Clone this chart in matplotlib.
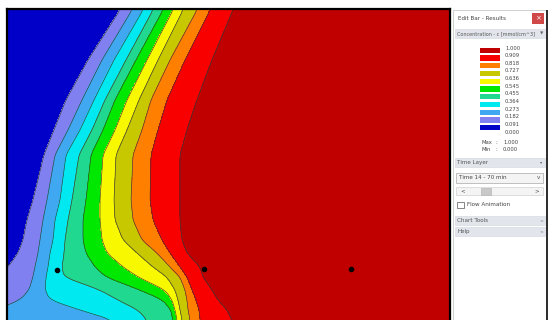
import numpy as np
import matplotlib
matplotlib.use('Agg')
import matplotlib.pyplot as plt
from matplotlib.patches import Rectangle

# Konturgrenzen (x in Pixel) je Bildzeile
row_y = [10, 60, 100, 130, 155, 200, 220, 240, 253, 267, 277, 290, 300, 310, 320]
blue_lav = [120, 88, 66, 54, 44, 33, 27, 23, 18, 8, -5, -10, -20, -30, -40]
lav_lb = [132, 102, 82, 68, 55, 47, 43, 40, 38, 35, 33, 29, 20, -5, -15]
lb_cyan = [143, 114, 94, 80, 66, 60, 55, 53, 50, 48, 46, 45, 50, 80, 113]
cyan_sg = [153, 126, 105, 92, 79, 72, 68, 65, 64, 62, 64, 100, 118, 138, 147]
sg_green = [163, 136, 115, 103, 91, 86, 83, 83, 86, 95, 106, 140, 163, 171, 173]
green_yel = [173, 147, 127, 115, 103, 100, 100, 102, 107, 123, 138, 165, 172, 175, 177]
yel_olive = [183, 158, 139, 127, 116, 114, 115, 123, 137, 153, 167, 175, 178, 180, 182]
olive_orng = [197, 170, 151, 142, 133, 131, 133, 142, 157, 170, 180, 185, 187, 188, 190]
orng_red = [210, 185, 167, 158, 151, 150, 153, 162, 170, 180, 187, 192, 196, 199, 200]
red_dkred = [233, 212, 197, 187, 180, 180, 180, 182, 187, 200, 203, 212, 218, 227, 232]

# Messpunkte
dot_x = [57, 204, 351]
dot_y = [270, 269, 269]

farben = ['#0000c8', '#8080f0', '#40a8f0', '#00e8f0', '#20d890', '#00e800',
          '#f8f800', '#c8c800', '#ff8000', '#f80000', '#c00000']
labels = ['1.000', '0.909', '0.818', '0.727', '0.636', '0.545', '0.455',
          '0.364', '0.273', '0.182', '0.091', '0.000']

fig = plt.figure(figsize=(5.48, 3.2), dpi=100)
fig.patch.set_facecolor('white')

# Konturbild
ax = fig.add_axes([7/548, 0, (450-7)/548, (320-9)/320])
gx = np.linspace(7, 450, 700)
gy = np.linspace(9, 320, 400)
grenzen = np.array([blue_lav, lav_lb, lb_cyan, cyan_sg, sg_green,
                    green_yel, yel_olive, olive_orng, orng_red, red_dkred])
stufen = np.arange(1, 11) / 11

# Grenzlinien auf feines y-Raster bringen und etwas glätten
B = np.array([np.interp(gy, row_y, g) for g in grenzen])
k = 11
kern = np.ones(k) / k
B = np.array([np.convolve(np.pad(b, k//2, mode='edge'), kern, mode='valid') for b in B])

Z = np.zeros((len(gy), len(gx)))
for i in range(len(gy)):
    b = B[:, i]
    xp = np.concatenate([[b[0] - 20], b, [b[-1] + 20]])
    fp = np.concatenate([[0], stufen, [1]])
    Z[i] = np.interp(gx, xp, fp)

lev = np.concatenate([[-0.01], stufen, [1.01]])
ax.contourf(gx, gy, Z, levels=lev, colors=farben)
ax.contour(gx, gy, Z, levels=stufen, colors='#383838', linewidths=0.45)
ax.scatter(dot_x, dot_y, s=9, c='black', zorder=5)
ax.set_xlim(7, 450)
ax.set_ylim(320, 9)
ax.set_xticks([])
ax.set_yticks([])
ax.spines['bottom'].set_visible(False)
for s in ['left', 'top', 'right']:
    ax.spines[s].set_linewidth(1.6)
    ax.spines[s].set_color('black')

# Seitenleiste
p = fig.add_axes([452/548, 0, 96/548, 1])
p.set_xlim(452, 548)
p.set_ylim(320, 0)
p.axis('off')
p.add_patch(Rectangle((453, 10), 93, 312, facecolor='white', edgecolor='#c8c8c8', lw=0.6))
p.add_patch(Rectangle((546, 10), 2, 312, facecolor='#303030', edgecolor='none'))
txt = dict(fontsize=4.1, color='#444444', va='center', family='DejaVu Sans')
p.text(458, 18, 'Edit Bar - Results', **txt)
p.add_patch(Rectangle((532, 13), 12, 11, facecolor='#d04848', edgecolor='none'))
p.text(538, 18.5, '×', fontsize=5, color='white', ha='center', va='center')

def kopf(y, h, titel, zeichen, fs=4.1):
    p.add_patch(Rectangle((455, y), 90, h, facecolor='#e2e6ec', edgecolor='#d0d4da', lw=0.4))
    p.text(457, y + h/2, titel, fontsize=fs, color='#555555', va='center')
    p.text(541.5, y + h/2, zeichen, fontsize=3.2, color='#666666', ha='center', va='center')

kopf(29, 9, 'Concentration - c [mmol/cm^3]', '▼', fs=3.5)

for i, f in enumerate(farben[::-1]):
    p.add_patch(Rectangle((480, 47.5 + 7.75*i), 20, 5.3, facecolor=f, edgecolor='none'))
for j, lab in enumerate(labels):
    p.text(505, 48 + 7.65*j, lab, fontsize=3.8, color='#444444', va='center')
for yy, name, wert in [(143, 'Max', '1.000'), (149.5, 'Min', '0.000')]:
    p.text(481, yy, name, fontsize=3.8, color='#444444', va='center')
    p.text(495, yy, ':', fontsize=3.8, color='#444444', va='center')
    p.text(503, yy, wert, fontsize=3.8, color='#444444', va='center')

kopf(158, 9, 'Time Layer', '▾')
p.add_patch(Rectangle((456, 172.5), 87, 10, facecolor='#f4f4f4', edgecolor='#a8a8a8', lw=0.5))
p.text(459, 177.5, 'Time 14 - 70 min', **txt)
p.text(538, 177.5, 'v', fontsize=4, color='#555555', ha='center', va='center')
p.add_patch(Rectangle((456, 187), 87, 8, facecolor='#f4f4f4', edgecolor='#c8c8c8', lw=0.4))
p.text(463, 191, '<', fontsize=4, color='#444444', ha='center', va='center')
p.text(537, 191, '>', fontsize=4, color='#444444', ha='center', va='center')
p.add_patch(Rectangle((481, 187.5), 10, 7, facecolor='#c8c8c8', edgecolor='#b0b0b0', lw=0.4))
p.add_patch(Rectangle((457, 201.5), 6.5, 6.5, facecolor='white', edgecolor='#555555', lw=0.5))
p.text(467, 205, 'Flow Animation', **txt)

kopf(216, 9, 'Chart Tools', '<')
kopf(227, 9, 'Help', '<')

fig.savefig('out.png', dpi=100)
